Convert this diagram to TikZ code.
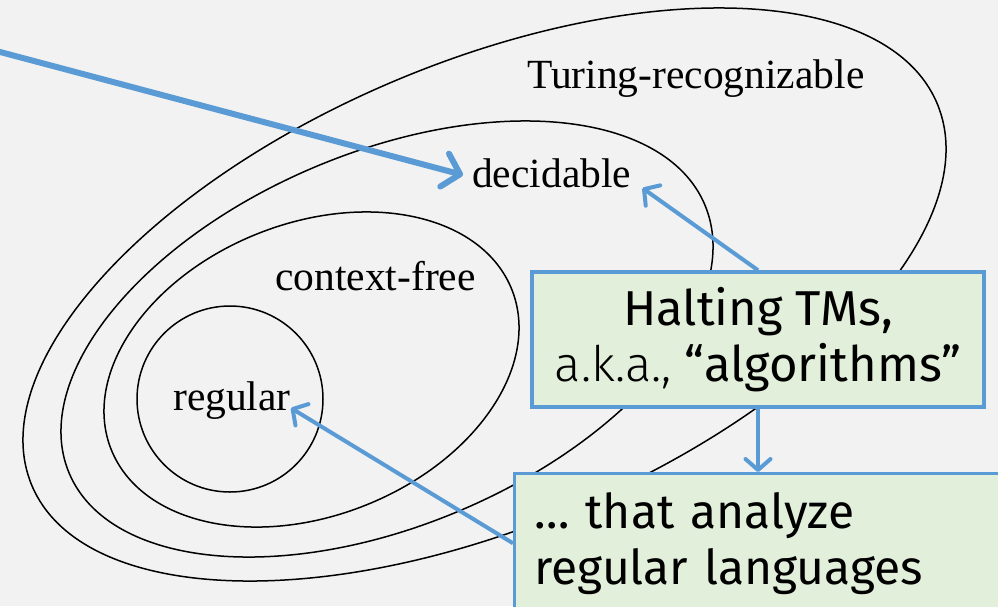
\documentclass[tikz,border=0pt]{standalone}
\usepackage{fontspec}
\setmainfont{Liberation Serif}
\newfontfamily\fira{Fira Sans}
\newfontfamily\firalight{Fira Sans Light}
\usetikzlibrary{arrows.meta,calc,positioning}
\definecolor{slideblue}{HTML}{5B9BD5}
\definecolor{slidegreen}{HTML}{E2EFDA}
\definecolor{slidegray}{HTML}{F2F2F2}

\tikzset{
  setlabel/.style={anchor=base west, inner sep=0pt, font=\fontsize{41.5}{48}\selectfont},
  callout/.style={draw=slideblue, fill=slidegreen, line width=3.5pt, font=\fira\fontsize{49}{56}\selectfont},
  pointer/.style={draw=slideblue, line width=4pt, -{Straight Barb[length=11pt,width=25pt,round]}},
}

\begin{document}
\begin{tikzpicture}[x=1pt,y=-1pt]
  \fill[slidegray] (0,0) rectangle (998,606);
  \useasboundingbox (0,0) rectangle (998,606);

  % nested language classes
  \foreach \cx/\cy/\ang/\ra/\rb in {484.5/294.5/22.9/491.3/231.7, 387/339/22.9/345/186.5, 311.5/369.5/21.8/215.7/146.1}
    \draw[line width=1.5pt, rotate around={\ang:(\cx,\cy)}] (\cx,\cy) ellipse ({\ra} and {\rb});
  \draw[line width=1.5pt] (230,399) circle (93);

  \node[setlabel] (turing) at (527,88) {Turing-recognizable};
  \node[setlabel] (decidable) at (472,187) {decidable};
  \node[setlabel] (cfree) at (275,290) {context-free};
  \node[setlabel] (regular) at (173,410) {regular};

  \node[callout, minimum width=452pt, minimum height=135pt, align=center] (halting) at (758,339.5)
    {Halting TMs,\\{\firalight a.k.a.,} “algorithms”};
  \node[callout, line width=2.5pt, anchor=north west, minimum width=500pt, minimum height=140pt,
    text width=460pt, align=left, inner xsep=20pt, font=\fira\fontsize{48}{56}\selectfont] (analyze) at (513,472)
    {… that analyze\\regular languages};

  \coordinate (offleft) at (-10,49.3);
  \draw[pointer, line width=6pt, -{Straight Barb[length=16pt,width=34pt,round]}]
    (offleft) -- ($(decidable.base west)+(-9,-12)$);
  \draw[pointer] (halting.north) -- ($(decidable.base east)+(11,1)$);
  \draw[pointer] (halting.south) -- (halting.south |- analyze.north);
  \draw[pointer] (analyze.west) -- ($(regular.base east)+(0,-2)$);
\end{tikzpicture}
\end{document}
